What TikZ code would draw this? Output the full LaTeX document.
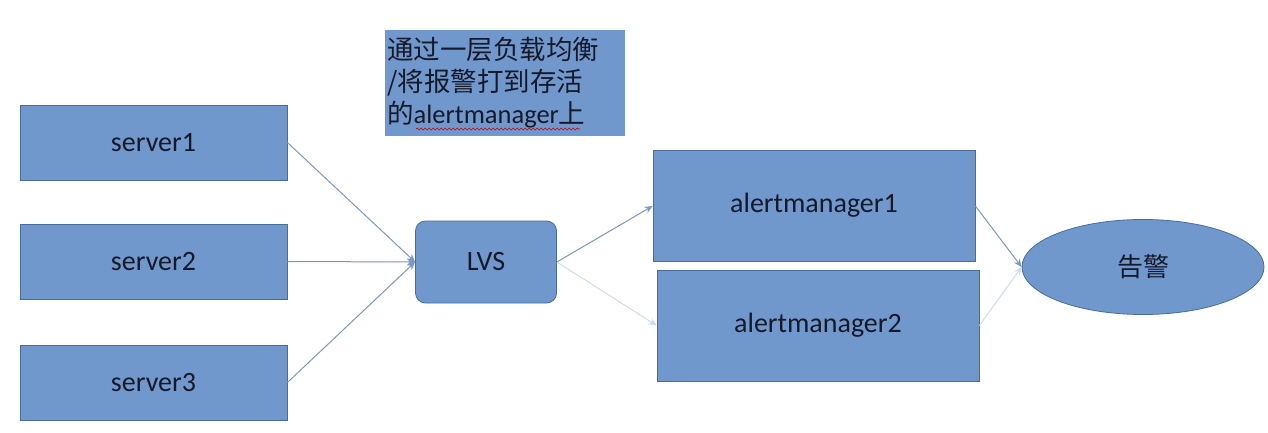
\documentclass[tikz,border=0pt]{standalone}
\usepackage{fontspec}
\setmainfont{Carlito}
\newfontfamily\cjk{Noto Sans CJK SC}
\usetikzlibrary{arrows.meta,shapes.geometric,decorations.pathmorphing}
\definecolor{boxfill}{RGB}{113,152,205}
\definecolor{boxline}{RGB}{70,108,160}
\definecolor{darkarrow}{RGB}{125,152,192}
\definecolor{lightarrow}{RGB}{208,220,236}
\definecolor{txt}{RGB}{22,26,40}
\tikzset{
  box/.style={draw=boxline, line width=0.8pt, fill=boxfill, minimum width=267pt, minimum height=75pt, text=txt, font=\fontsize{28}{32}\selectfont, inner sep=0pt},
  ambox/.style={box, minimum width=322pt, minimum height=111pt},
  lvsbox/.style={box, rounded corners=10pt, minimum width=141pt, minimum height=82pt},
  oval/.style={ellipse, draw=boxline, line width=0.8pt, fill=boxfill, minimum width=242pt, minimum height=95pt, text=txt, font=\cjk\fontsize{26}{30}\selectfont, inner sep=0pt},
  note/.style={fill=boxfill, text=txt, minimum width=240pt, minimum height=106pt, inner sep=0pt},
  darr/.style={draw=darkarrow, line width=1pt, -{Stealth[length=8pt,width=7pt]}},
  larr/.style={draw=lightarrow, line width=1pt, -{Stealth[length=8pt,width=7pt]}}
}
\begin{document}
\begin{tikzpicture}[x=1pt,y=-1pt]
\useasboundingbox (0,0) rectangle (1268,433);
\fill[white] (0,0) rectangle (1268,433);
% nodes
\node[box] (s1) at (153.5,142.5) {server1};
\node[box] (s2) at (153.5,261.5) {server2};
\node[box] (s3) at (153.5,382.5) {server3};
\node[lvsbox] (lvs) at (486,262) {LVS};
\node[ambox] (am1) at (814,206) {\raisebox{6pt}{alertmanager1}};
\node[ambox] (am2) at (818,325.5) {alertmanager2};
\node[oval] (alarm) at (1143,267) {告警};
\node[note] (nt) at (505,83) {};
\node[anchor=north west, text=txt, align=left, font=\cjk\fontsize{26.5}{32}\selectfont, inner sep=0pt] (ntxt) at (387,37)
  {通过一层负载均衡\\/将报警打到存活\\的{\rmfamily alertmanager}上};
\coordinate (ul1) at (416,129);
\coordinate (ul2) at (580,129);
\draw[red!80!black, line width=0.6pt, decorate, decoration={snake, amplitude=1pt, segment length=4pt}] (ul1) -- (ul2);
% connectors
\draw[darr] (s1.east) -- (lvs.west);
\draw[darr] (s2.east) -- (lvs.west);
\draw[darr] (s3.east) -- (lvs.west);
\draw[darr] (lvs.east) -- (am1.west);
\draw[larr] (lvs.east) -- (am2.west);
\draw[darr] (am1.east) -- (alarm.west);
\draw[larr] (am2.east) -- (alarm.west);
\end{tikzpicture}
\end{document}
